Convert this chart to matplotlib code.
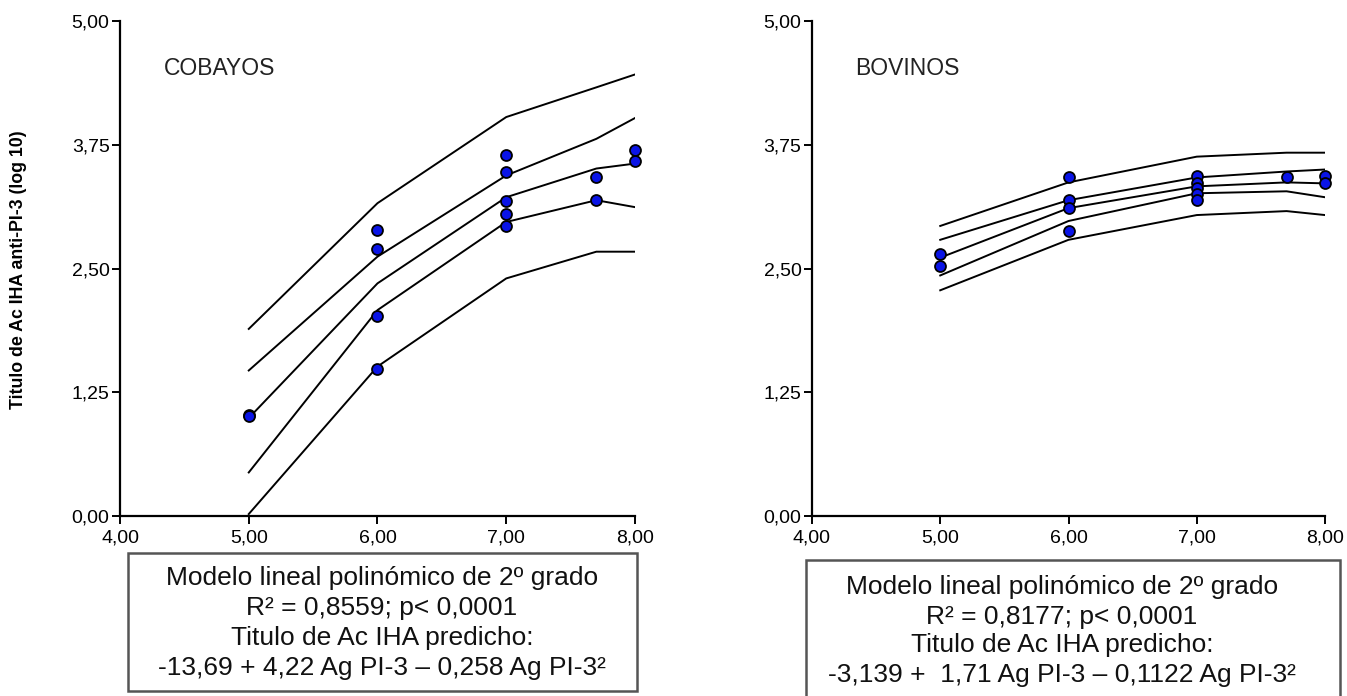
import matplotlib
matplotlib.use("Agg")
import matplotlib.pyplot as plt
from matplotlib.patches import Rectangle

plt.rcParams['font.family'] = ['Liberation Sans', 'DejaVu Sans']

# === Data ===
x_line = [5.0, 6.0, 7.0, 7.7, 8.0]

# COBAYOS: fit line + two bands (upper/lower)
cob_upper2 = [1.89, 3.16, 4.03, 4.33, 4.46]
cob_upper1 = [1.47, 2.62, 3.44, 3.81, 4.02]
cob_fit = [0.99, 2.35, 3.22, 3.51, 3.56]
cob_lower1 = [0.44, 2.08, 2.97, 3.19, 3.12]
cob_lower2 = [0.02, 1.51, 2.40, 2.67, 2.67]
cob_x = [5, 5, 6, 6, 6, 6, 7, 7, 7, 7, 7, 7.7, 7.7, 8, 8]
cob_y = [1.02, 1.01, 2.89, 2.70, 2.02, 1.48, 3.65, 3.47, 3.18, 3.05, 2.93, 3.42, 3.19, 3.70, 3.59]

# BOVINOS
bov_upper2 = [2.93, 3.37, 3.63, 3.67, 3.67]
bov_upper1 = [2.79, 3.19, 3.42, 3.48, 3.50]
bov_fit = [2.61, 3.11, 3.33, 3.37, 3.36]
bov_lower1 = [2.43, 2.98, 3.26, 3.28, 3.22]
bov_lower2 = [2.28, 2.79, 3.04, 3.08, 3.04]
bov_x = [5, 5, 6, 6, 6, 6, 7, 7, 7, 7, 7, 7.7, 8, 8]
bov_y = [2.65, 2.53, 3.42, 3.19, 3.11, 2.88, 3.43, 3.36, 3.31, 3.25, 3.19, 3.42, 3.43, 3.36]

x_ticks = [4.0, 5.0, 6.0, 7.0, 8.0]
y_ticks = [0.0, 1.25, 2.5, 3.75, 5.0]

panels = [
    ("COBAYOS", [cob_upper2, cob_upper1, cob_fit, cob_lower1, cob_lower2], cob_x, cob_y,
     [0.0891, 0.2586, 0.3823, 0.7112]),
    ("BOVINOS", [bov_upper2, bov_upper1, bov_fit, bov_lower1, bov_lower2], bov_x, bov_y,
     [0.6028, 0.2586, 0.3809, 0.7112]),
]

boxes = [
    ((128, 553, 637, 691), 382, [578, 608, 638, 668],
     ["Modelo lineal polinómico de 2º grado",
      "R² = 0,8559; p< 0,0001",
      "Titulo de Ac IHA predicho:",
      "-13,69 + 4,22 Ag PI-3 – 0,258 Ag PI-3²"]),
    ((806, 560, 1340, 702), 1062, [587, 617, 645, 675],
     ["Modelo lineal polinómico de 2º grado",
      "R² = 0,8177; p< 0,0001",
      "Titulo de Ac IHA predicho:",
      "-3,139 +  1,71 Ag PI-3 – 0,1122 Ag PI-3²"]),
]

W, H = 1347, 696
fig = plt.figure(figsize=(W / 100, H / 100), dpi=100)

def fmt(v):
    return f"{v:.2f}".replace(".", ",")

for name, lines, px, py, rect in panels:
    ax = fig.add_axes(rect)
    for ln in lines:
        ax.plot(x_line, ln, color='black', linewidth=1.4, zorder=2)
    ax.scatter(px, py, s=62, color='#0a14e6', edgecolors='black', linewidths=1.3,
               zorder=3, clip_on=False)
    ax.set_xlim(4, 8)
    ax.set_ylim(0, 5)
    ax.set_xticks(x_ticks)
    ax.set_yticks(y_ticks)
    ax.set_xticklabels([fmt(v) for v in x_ticks], fontsize=14)
    ax.set_yticklabels([fmt(v) for v in y_ticks], fontsize=14)
    for s in ['top', 'right']:
        ax.spines[s].set_visible(False)
    for s in ['left', 'bottom']:
        ax.spines[s].set_linewidth(1.6)
    ax.tick_params(direction='out', length=6, width=1.4)
    ax.tick_params(axis='y', pad=1.5)
    ax.tick_params(axis='x', pad=4)
    ax.text(0.085, 0.905, name, transform=ax.transAxes, fontsize=16.5, color='#222222',
            ha='left', va='center')

fig.text(19 / W, 1 - 270 / H, "Titulo de Ac IHA anti-PI-3 (log 10)", rotation=90,
         fontsize=12.8, fontweight='bold', ha='center', va='center')

for (x0, y0, x1, y1), cx, ys, texts in boxes:
    fig.patches.append(Rectangle((x0 / W, 1 - y1 / H), (x1 - x0) / W, (y1 - y0) / H,
                                 transform=fig.transFigure, fill=False,
                                 edgecolor='#555555', linewidth=1.8))
    for yy, t in zip(ys, texts):
        fig.text(cx / W, 1 - yy / H, t, fontsize=19, ha='center', va='center', color='#111111')

fig.savefig("out.png", dpi=100)
